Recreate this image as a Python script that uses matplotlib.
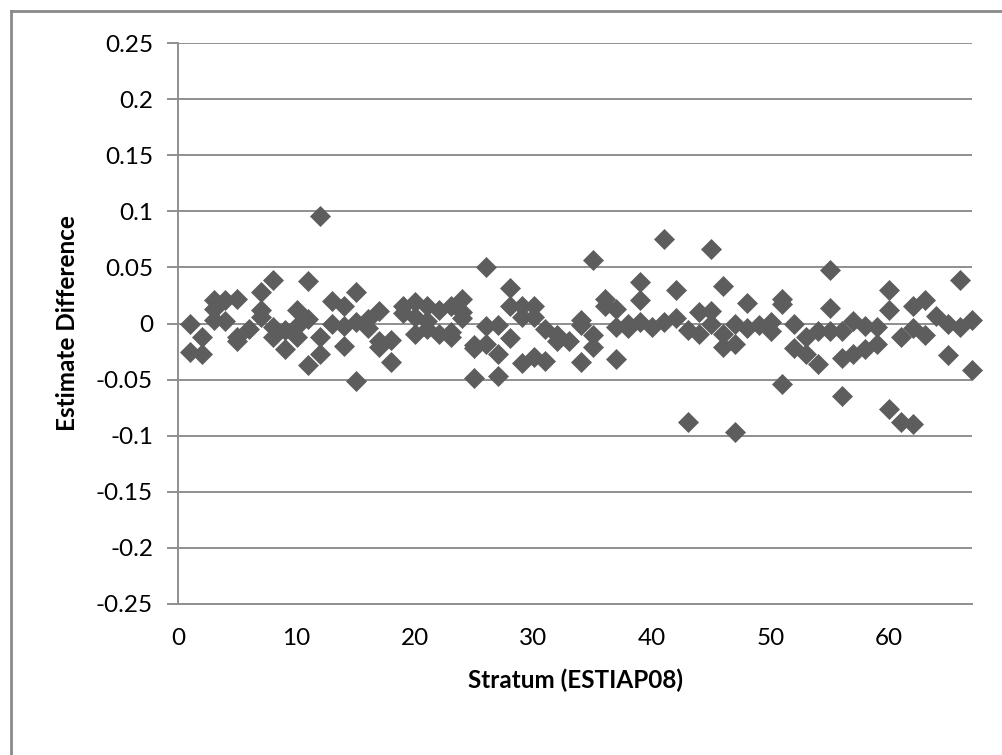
import matplotlib
matplotlib.use("Agg")
import matplotlib.pyplot as plt
from matplotlib.lines import Line2D

# Data: stratum and estimate difference
stratum = [
    1, 1, 2, 2, 3, 3, 3, 4, 4, 5, 5, 5, 6, 7, 7, 7, 8, 8, 8, 9, 9,
    10, 10, 10, 11, 11, 11, 12, 12, 12, 13, 13, 14, 14, 14, 15, 15, 15,
    16, 16, 17, 17, 17, 18, 18, 19, 19, 20, 20, 20, 21, 21, 21, 22, 22,
    23, 23, 23, 24, 24, 24, 25, 25, 25, 26, 26, 26, 27, 27, 27, 28, 28, 28,
    29, 29, 29, 30, 30, 30, 31, 31, 32, 32, 33, 34, 34, 34, 35, 35, 35,
    36, 36, 37, 37, 37, 38, 38, 39, 39, 39, 40, 41, 41, 42, 42, 43, 43,
    44, 44, 45, 45, 45, 46, 46, 46, 47, 47, 47, 48, 48, 49, 50, 50,
    51, 51, 51, 52, 52, 53, 53, 54, 54, 55, 55, 55, 56, 56, 56, 57, 57,
    58, 58, 59, 59, 60, 60, 60, 61, 61, 62, 62, 62, 63, 63, 64, 65, 65,
    66, 66, 67, 67,
]
difference = [
    0.000, -0.025, -0.012, -0.027, 0.021, 0.013, 0.003, 0.021, 0.002,
    0.022, -0.012, -0.016, -0.005, 0.028, 0.012, 0.006, 0.039, -0.003, -0.012,
    -0.006, -0.023,
    0.012, -0.002, -0.012, 0.038, 0.004, -0.037, 0.096, -0.012, -0.027,
    0.020, 0.000, 0.016, -0.002, -0.020, 0.028, 0.001, -0.051,
    0.004, -0.004, 0.011, -0.016, -0.021, -0.015, -0.034, 0.016, 0.009,
    0.019, 0.006, -0.009, 0.016, 0.002, -0.005, 0.012, -0.009,
    0.016, -0.008, -0.012, 0.022, 0.010, 0.005, -0.019, -0.049, -0.022,
    0.050, -0.002, -0.018, -0.001, -0.027, -0.047, 0.032, 0.016, -0.013,
    0.016, 0.006, -0.035, 0.016, 0.006, -0.030, -0.005, -0.033,
    -0.010, -0.016, -0.016, 0.003, -0.001, -0.034, 0.057, -0.010, -0.021,
    0.022, 0.016, 0.013, -0.003, -0.032, 0.000, -0.004, 0.037, 0.021, 0.001,
    -0.003, 0.075, 0.001, 0.030, 0.005, -0.006, -0.088,
    0.010, -0.009, 0.066, 0.011, 0.000, 0.033, -0.009, -0.021,
    0.000, -0.018, -0.097, 0.018, -0.004, -0.001, 0.001, -0.007,
    0.022, 0.017, -0.054, 0.000, -0.022, -0.012, -0.027, -0.007, -0.036,
    0.048, 0.014, -0.007, -0.007, -0.031, -0.065, 0.002, -0.027,
    -0.002, -0.023, -0.003, -0.018, 0.030, 0.012, -0.076, -0.012, -0.088,
    0.016, -0.004, -0.090, 0.021, -0.010, 0.007, 0.000, -0.028,
    0.039, -0.003, 0.003, -0.041,
]
x_ticks = [0, 10, 20, 30, 40, 50, 60]
y_ticks = [0.25, 0.2, 0.15, 0.1, 0.05, 0, -0.05, -0.1, -0.15, -0.2, -0.25]
y_labels = ["0.25", "0.2", "0.15", "0.1", "0.05", "0", "-0.05", "-0.1", "-0.15", "-0.2", "-0.25"]

plt.rcParams['font.family'] = ['Lato', 'DejaVu Sans']

W, H = 1002, 755
fig = plt.figure(figsize=(W / 100, H / 100), dpi=100)
ax = fig.add_axes([178 / W, 1 - 604 / H, (972 - 178) / W, (604 - 43) / H])

grid_c = "#8f8f8f"
for yv in y_ticks:
    ax.axhline(yv, color=grid_c, lw=1.4, zorder=1)

ax.plot(stratum, difference, linestyle="none", marker="D", markersize=10,
        markerfacecolor="#5d5d5d", markeredgecolor="#5d5d5d", markeredgewidth=0.5,
        zorder=3, clip_on=False)

ax.set_xlim(0, 67)
ax.set_ylim(-0.25, 0.25)
ax.set_xticks(x_ticks)
ax.set_xticklabels([str(t) for t in x_ticks])
ax.set_yticks(y_ticks)
ax.set_yticklabels(y_labels)

for side in ["top", "right"]:
    ax.spines[side].set_visible(False)
ax.spines["left"].set_color(grid_c)
ax.spines["left"].set_linewidth(1.4)
ax.spines["bottom"].set_color(grid_c)
ax.spines["bottom"].set_linewidth(1.4)

ax.tick_params(axis="y", length=8, width=1.4, color=grid_c, pad=10, labelsize=17.5)
ax.tick_params(axis="x", length=0, pad=17, labelsize=17.5)

ax.set_xlabel("Stratum (ESTIAP08)", fontsize=17.5, fontweight="bold", labelpad=14)
ax.set_ylabel("Estimate Difference", fontsize=17.5, fontweight="bold", labelpad=12)

# Chart area border (left and top visible)
fig.add_artist(Line2D([11 / W, 11 / W], [0, 1 - 11 / H], transform=fig.transFigure,
                      color="#8a8a8a", lw=2))
fig.add_artist(Line2D([11 / W, 1], [1 - 11 / H, 1 - 11 / H], transform=fig.transFigure,
                      color="#8a8a8a", lw=2))

fig.savefig("out.png", dpi=100)
